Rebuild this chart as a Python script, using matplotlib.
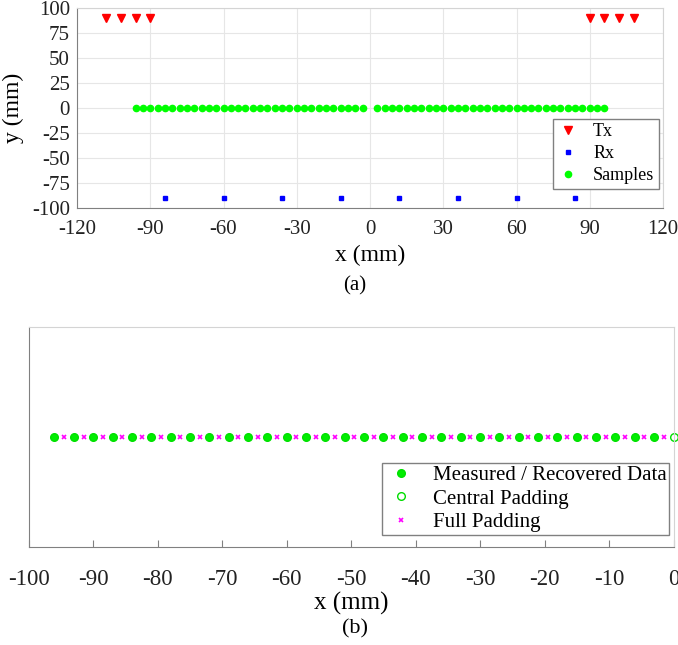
import numpy as np
from matplotlib import pyplot as plt

# panel (a): array geometry (mm)
tx_x = [-108, -102, -96, -90, 90, 96, 102, 108]
tx_y = [90, 90, 90, 90, 90, 90, 90, 90]
rx_x = [-84, -60, -36, -12, 12, 36, 60, 84]
rx_y = [-90, -90, -90, -90, -90, -90, -90, -90]
samp_x = [-96, -93, -90, -87, -84, -81, -78, -75, -72, -69, -66, -63, -60, -57, -54, -51,
          -48, -45, -42, -39, -36, -33, -30, -27, -24, -21, -18, -15, -12, -9, -6, -3,
          3, 6, 9, 12, 15, 18, 21, 24, 27, 30, 33, 36, 39, 42, 45, 48,
          51, 54, 57, 60, 63, 66, 69, 72, 75, 78, 81, 84, 87, 90, 93, 96]
samp_y = [0] * len(samp_x)

# panel (b): padding scheme (mm)
meas_x = [-96, -93, -90, -87, -84, -81, -78, -75, -72, -69, -66, -63, -60, -57, -54, -51,
          -48, -45, -42, -39, -36, -33, -30, -27, -24, -21, -18, -15, -12, -9, -6, -3]
central_x = [0]
full_x = [-94.5, -91.5, -88.5, -85.5, -82.5, -79.5, -76.5, -73.5, -70.5, -67.5, -64.5,
          -61.5, -58.5, -55.5, -52.5, -49.5, -46.5, -43.5, -40.5, -37.5, -34.5, -31.5,
          -28.5, -25.5, -22.5, -19.5, -16.5, -13.5, -10.5, -7.5, -4.5, -1.5]

plt.rcParams['font.family'] = ['Liberation Serif', 'DejaVu Serif']
plt.rcParams['axes.unicode_minus'] = False
W, H = 678, 645
fig = plt.figure(figsize=(W / 100, H / 100), dpi=100)

def box(l, t, r, b):
    return [l / W, 1 - b / H, (r - l) / W, (b - t) / H]

def style(ax):
    for s in ['left', 'bottom']:
        ax.spines[s].set_color('#808080')
    for s in ['top', 'right']:
        ax.spines[s].set_color('#d4d4d4')
    ax.tick_params(direction='in', colors='#808080', labelcolor='#222222')

ax1 = fig.add_axes(box(77, 8, 663, 208))
ax1.plot(tx_x, tx_y, 'v', color='#ff0000', ms=5.5, label='Tx')
ax1.plot(rx_x, rx_y, 's', color='#0000ff', ms=3.5, label='Rx')
ax1.plot(samp_x, samp_y, 'o', color='#00ff00', ms=4.5, label='Samples')
ax1.set_xlim(-120, 120)
ax1.set_ylim(-100, 100)
ax1.set_xticks(np.arange(-120, 121, 30))
ax1.set_yticks(np.arange(-100, 101, 25))
ax1.grid(True, color='#e6e6e6', lw=0.8)
ax1.set_axisbelow(True)
style(ax1)
ax1.tick_params(labelsize=15, length=0)
ax1.tick_params(axis='x', pad=9)
ax1.tick_params(axis='y', pad=5)
ax1.set_xlabel('x (mm)', fontsize=17, labelpad=4)
ax1.set_ylabel('y (mm)', fontsize=17, labelpad=6)
ax1.legend(loc='lower right', bbox_to_anchor=(0.993, 0.095), borderaxespad=0,
           fontsize=13, fancybox=False, edgecolor='#808080', framealpha=1,
           handlelength=1.2, handletextpad=0.8, borderpad=0.25, labelspacing=0.28)
fig.text(355 / W, 1 - 286 / H, '(a)', ha='center', va='center', fontsize=15)

ax2 = fig.add_axes(box(28.7, 327, 673.5, 547))
ax2.plot(meas_x, [0] * len(meas_x), 'o', color='#00e000', mfc='#00ee00', ms=5.5,
         ls='none', label='Measured / Recovered Data')
ax2.plot(central_x, [0] * len(central_x), 'o', color='#00dd00', mfc='none', ms=5.5,
         ls='none', label='Central Padding', clip_on=False)
ax2.plot(full_x, [0] * len(full_x), 'x', color='#ff00ff', ms=3.5, mew=1.2,
         ls='none', label='Full Padding')
ax2.set_xlim(-100, 0)
ax2.set_ylim(-1, 1)
ax2.set_xticks(np.arange(-100, 1, 10))
ax2.set_yticks([])
style(ax2)
ax2.tick_params(axis='x', labelsize=16.5, length=5, pad=16)
ax2.set_xlabel('x (mm)', fontsize=18, labelpad=1)
ax2.legend(loc='lower right', bbox_to_anchor=(0.993, 0.055), borderaxespad=0,
           fontsize=15, fancybox=False, edgecolor='#808080', framealpha=1,
           handlelength=1.6, handletextpad=0.7, borderpad=0.12, labelspacing=0.2)
fig.text(355 / W, 1 - 629 / H, '(b)', ha='center', va='center', fontsize=16)

fig.savefig('out.png', dpi=100)
